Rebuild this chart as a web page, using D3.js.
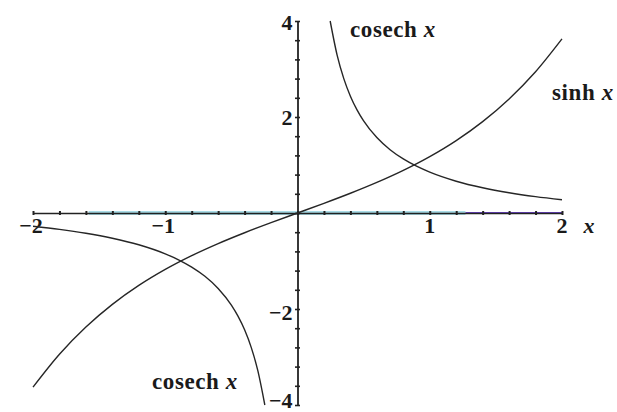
<!DOCTYPE html>
<html>
<head>
<meta charset="utf-8">
<script src="https://cdn.jsdelivr.net/npm/d3@7"></script>
<style>
  html, body { margin: 0; padding: 0; background: #fff; }
  svg { display: block; }
  text { font-family: "Liberation Serif", "DejaVu Serif", serif; fill: #1a1a1a; }
</style>
</head>
<body>
<svg id="chart" width="617" height="412"></svg>
<script>
// Sample points of sinh x over [-2, 2]
const sinhX = [-2, -1.8, -1.6, -1.4, -1.2, -1, -0.8, -0.6, -0.4, -0.2, 0, 0.2, 0.4, 0.6, 0.8, 1, 1.2, 1.4, 1.6, 1.8, 2];
const sinhY = [-3.627, -2.942, -2.376, -1.904, -1.509, -1.175, -0.888, -0.637, -0.411, -0.201, 0, 0.201, 0.411, 0.637, 0.888, 1.175, 1.509, 1.904, 2.376, 2.942, 3.627];

// Sample points of cosech x, right branch (x > 0)
const cosechRightX = [0.247, 0.3, 0.35, 0.4, 0.45, 0.5, 0.6, 0.7, 0.8, 0.9, 1, 1.2, 1.4, 1.6, 1.8, 2];
const cosechRightY = [4, 3.284, 2.8, 2.434, 2.149, 1.919, 1.571, 1.318, 1.126, 0.974, 0.851, 0.662, 0.525, 0.421, 0.34, 0.276];

// Left branch (x < 0)
const cosechLeftX = [-2, -1.8, -1.6, -1.4, -1.2, -1, -0.9, -0.8, -0.7, -0.6, -0.5, -0.45, -0.4, -0.35, -0.3, -0.247];
const cosechLeftY = [-0.276, -0.34, -0.421, -0.525, -0.662, -0.851, -0.974, -1.126, -1.318, -1.571, -1.919, -2.149, -2.434, -2.8, -3.284, -4];

// Tick labels
const xLabels = [-2, -1, 1, 2];
const yLabels = [4, 2, -2, -4];

const svg = d3.select("#chart");
const x = d3.scaleLinear().domain([-2, 2]).range([33, 562]);
const y = d3.scaleLinear().domain([-4, 4]).range([405, 21]);

const fmt = v => (v < 0 ? "\u2212" + Math.abs(v) : String(v));

// Coloured strip along the x-axis
svg.append("rect")
  .attr("x", x(-1.58)).attr("y", y(0) - 2)
  .attr("width", x(1.27) - x(-1.58)).attr("height", 4)
  .attr("fill", "#a9dbe6");
svg.append("line")
  .attr("x1", x(1.27)).attr("x2", x(2))
  .attr("y1", y(0)).attr("y2", y(0))
  .attr("stroke", "#6b42c8").attr("stroke-width", 2.2);

// x-axis
const xTicks = d3.range(-2, 2.001, 0.2).map(v => +v.toFixed(2));
const xAxis = d3.axisBottom(x).tickValues(xTicks).tickFormat("").tickSizeInner(3).tickSizeOuter(0);
const gx = svg.append("g").attr("transform", `translate(0,${y(0)})`).call(xAxis);
gx.select(".domain").attr("stroke", "#222").attr("stroke-width", 1.3);
gx.selectAll(".tick line").attr("y1", -2).attr("y2", 2).attr("stroke", "#222").attr("stroke-width", 2);

// y-axis
const yTicks = d3.range(-4, 4.001, 0.4).map(v => +v.toFixed(2));
const yAxis = d3.axisLeft(y).tickValues(yTicks).tickFormat("").tickSizeInner(3).tickSizeOuter(0);
const gy = svg.append("g").attr("transform", `translate(${x(0)},0)`).call(yAxis);
gy.select(".domain").attr("stroke", "#222").attr("stroke-width", 1.8);
gy.selectAll(".tick line").attr("x1", -2.5).attr("x2", 2.5).attr("stroke", "#222").attr("stroke-width", 1.6);

// Tick labels
svg.selectAll(".xl").data(xLabels).join("text")
  .attr("class", "xl")
  .attr("x", d => x(d) + (d < 0 ? -2 : 0))
  .attr("y", y(0) + 20)
  .attr("text-anchor", "middle")
  .attr("font-size", 22).attr("font-weight", "bold")
  .text(fmt);
svg.append("text")
  .attr("x", x(2) + 27).attr("y", y(0) + 20)
  .attr("text-anchor", "middle")
  .attr("font-size", 22).attr("font-style", "italic").attr("font-weight", "bold")
  .text("x");

const yOff = { "4": 9, "2": 8, "-2": 11, "-4": 3 };
svg.selectAll(".yl").data(yLabels).join("text")
  .attr("class", "yl")
  .attr("x", x(0) - 5)
  .attr("y", d => y(d) + yOff[d])
  .attr("text-anchor", "end")
  .attr("font-size", 22).attr("font-weight", "bold")
  .text(fmt);

// Curves
const line = d3.line().x(d => x(d[0])).y(d => y(d[1])).curve(d3.curveMonotoneX);
const curves = [
  d3.zip(sinhX, sinhY),
  d3.zip(cosechRightX, cosechRightY),
  d3.zip(cosechLeftX, cosechLeftY)
];
svg.selectAll(".curve").data(curves).join("path")
  .attr("class", "curve")
  .attr("d", line)
  .attr("fill", "none")
  .attr("stroke", "#262626")
  .attr("stroke-width", 1.4);

// Curve names
const names = [
  { t: "cosech", x: 350, y: 37 },
  { t: "sinh", x: 552, y: 100 },
  { t: "cosech", x: 152, y: 389 }
];
names.forEach(n => {
  const tx = svg.append("text").attr("x", n.x).attr("y", n.y)
    .attr("font-size", 23).attr("font-weight", "bold").attr("letter-spacing", 0.6);
  tx.append("tspan").text(n.t + " ");
  tx.append("tspan").attr("font-style", "italic").text("x");
});
</script>
</body>
</html>
